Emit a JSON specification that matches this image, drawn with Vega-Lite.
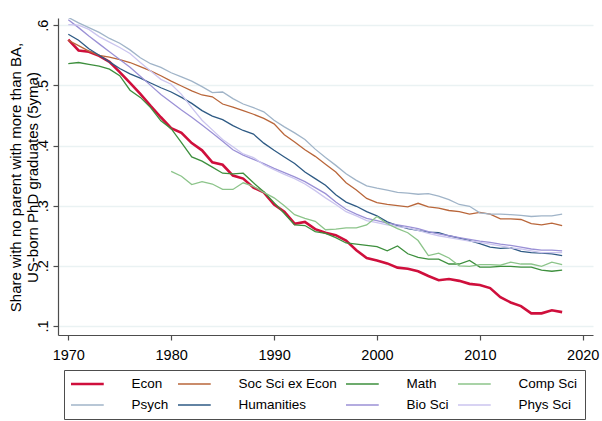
{
  "$schema": "https://vega.github.io/schema/vega-lite/v6.json",
  "width": 535,
  "height": 317,
  "autosize": {"type": "none"},
  "padding": {"left": 58, "top": 18, "right": 9, "bottom": 86},
  "background": "white",
  "config": {
    "view": {"stroke": null},
    "font": "Liberation Sans",
    "axis": {
      "labelFont": "Liberation Sans",
      "titleFont": "Liberation Sans",
      "labelColor": "black",
      "titleColor": "black",
      "domainColor": "#4d4d4d",
      "tickColor": "#4d4d4d",
      "domainWidth": 1.2,
      "tickWidth": 1.2,
      "tickSize": 5
    }
  },
  "data": {
    "values": [
      {"year": 1970, "Econ": 0.576, "Soc Sci ex Econ": 0.575, "Math": 0.536, "Comp Sci": null, "Psych": 0.613, "Humanities": 0.585, "Bio Sci": 0.609, "Phys Sci": 0.601},
      {"year": 1971, "Econ": 0.558, "Soc Sci ex Econ": 0.566, "Math": 0.538, "Comp Sci": null, "Psych": 0.604, "Humanities": 0.575, "Bio Sci": 0.596, "Phys Sci": 0.600},
      {"year": 1972, "Econ": 0.556, "Soc Sci ex Econ": 0.557, "Math": 0.535, "Comp Sci": null, "Psych": 0.596, "Humanities": 0.561, "Bio Sci": 0.582, "Phys Sci": 0.593},
      {"year": 1973, "Econ": 0.549, "Soc Sci ex Econ": 0.550, "Math": 0.532, "Comp Sci": null, "Psych": 0.588, "Humanities": 0.550, "Bio Sci": 0.569, "Phys Sci": 0.581},
      {"year": 1974, "Econ": 0.539, "Soc Sci ex Econ": 0.547, "Math": 0.527, "Comp Sci": null, "Psych": 0.578, "Humanities": 0.539, "Bio Sci": 0.556, "Phys Sci": 0.572},
      {"year": 1975, "Econ": 0.522, "Soc Sci ex Econ": 0.543, "Math": 0.516, "Comp Sci": null, "Psych": 0.570, "Humanities": 0.528, "Bio Sci": 0.543, "Phys Sci": 0.563},
      {"year": 1976, "Econ": 0.504, "Soc Sci ex Econ": 0.538, "Math": 0.492, "Comp Sci": null, "Psych": 0.559, "Humanities": 0.519, "Bio Sci": 0.530, "Phys Sci": 0.553},
      {"year": 1977, "Econ": 0.486, "Soc Sci ex Econ": 0.531, "Math": 0.480, "Comp Sci": null, "Psych": 0.546, "Humanities": 0.512, "Bio Sci": 0.515, "Phys Sci": 0.538},
      {"year": 1978, "Econ": 0.466, "Soc Sci ex Econ": 0.524, "Math": 0.463, "Comp Sci": null, "Psych": 0.536, "Humanities": 0.504, "Bio Sci": 0.500, "Phys Sci": 0.524},
      {"year": 1979, "Econ": 0.447, "Soc Sci ex Econ": 0.516, "Math": 0.441, "Comp Sci": null, "Psych": 0.530, "Humanities": 0.496, "Bio Sci": 0.485, "Phys Sci": 0.510},
      {"year": 1980, "Econ": 0.429, "Soc Sci ex Econ": 0.507, "Math": 0.428, "Comp Sci": 0.357, "Psych": 0.521, "Humanities": 0.489, "Bio Sci": 0.472, "Phys Sci": 0.502},
      {"year": 1981, "Econ": 0.421, "Soc Sci ex Econ": 0.499, "Math": 0.405, "Comp Sci": 0.349, "Psych": 0.514, "Humanities": 0.480, "Bio Sci": 0.459, "Phys Sci": 0.485},
      {"year": 1982, "Econ": 0.404, "Soc Sci ex Econ": 0.491, "Math": 0.381, "Comp Sci": 0.335, "Psych": 0.507, "Humanities": 0.470, "Bio Sci": 0.447, "Phys Sci": 0.463},
      {"year": 1983, "Econ": 0.392, "Soc Sci ex Econ": 0.484, "Math": 0.374, "Comp Sci": 0.340, "Psych": 0.498, "Humanities": 0.458, "Bio Sci": 0.434, "Phys Sci": 0.442},
      {"year": 1984, "Econ": 0.372, "Soc Sci ex Econ": 0.481, "Math": 0.364, "Comp Sci": 0.336, "Psych": 0.488, "Humanities": 0.449, "Bio Sci": 0.421, "Phys Sci": 0.426},
      {"year": 1985, "Econ": 0.368, "Soc Sci ex Econ": 0.469, "Math": 0.354, "Comp Sci": 0.327, "Psych": 0.489, "Humanities": 0.443, "Bio Sci": 0.407, "Phys Sci": 0.410},
      {"year": 1986, "Econ": 0.350, "Soc Sci ex Econ": 0.464, "Math": 0.353, "Comp Sci": 0.327, "Psych": 0.478, "Humanities": 0.433, "Bio Sci": 0.393, "Phys Sci": 0.398},
      {"year": 1987, "Econ": 0.345, "Soc Sci ex Econ": 0.458, "Math": 0.354, "Comp Sci": 0.338, "Psych": 0.469, "Humanities": 0.425, "Bio Sci": 0.384, "Phys Sci": 0.386},
      {"year": 1988, "Econ": 0.330, "Soc Sci ex Econ": 0.452, "Math": 0.338, "Comp Sci": 0.332, "Psych": 0.463, "Humanities": 0.419, "Bio Sci": 0.377, "Phys Sci": 0.380},
      {"year": 1989, "Econ": 0.322, "Soc Sci ex Econ": 0.445, "Math": 0.323, "Comp Sci": 0.322, "Psych": 0.456, "Humanities": 0.404, "Bio Sci": 0.370, "Phys Sci": 0.368},
      {"year": 1990, "Econ": 0.302, "Soc Sci ex Econ": 0.436, "Math": 0.305, "Comp Sci": 0.313, "Psych": 0.442, "Humanities": 0.392, "Bio Sci": 0.362, "Phys Sci": 0.360},
      {"year": 1991, "Econ": 0.290, "Soc Sci ex Econ": 0.418, "Math": 0.287, "Comp Sci": 0.300, "Psych": 0.431, "Humanities": 0.381, "Bio Sci": 0.355, "Phys Sci": 0.352},
      {"year": 1992, "Econ": 0.270, "Soc Sci ex Econ": 0.406, "Math": 0.268, "Comp Sci": 0.285, "Psych": 0.421, "Humanities": 0.370, "Bio Sci": 0.348, "Phys Sci": 0.345},
      {"year": 1993, "Econ": 0.273, "Soc Sci ex Econ": 0.393, "Math": 0.267, "Comp Sci": 0.279, "Psych": 0.410, "Humanities": 0.356, "Bio Sci": 0.340, "Phys Sci": 0.336},
      {"year": 1994, "Econ": 0.261, "Soc Sci ex Econ": 0.382, "Math": 0.257, "Comp Sci": 0.274, "Psych": 0.394, "Humanities": 0.345, "Bio Sci": 0.330, "Phys Sci": 0.325},
      {"year": 1995, "Econ": 0.255, "Soc Sci ex Econ": 0.369, "Math": 0.254, "Comp Sci": 0.260, "Psych": 0.380, "Humanities": 0.334, "Bio Sci": 0.320, "Phys Sci": 0.313},
      {"year": 1996, "Econ": 0.251, "Soc Sci ex Econ": 0.356, "Math": 0.247, "Comp Sci": 0.261, "Psych": 0.367, "Humanities": 0.318, "Bio Sci": 0.306, "Phys Sci": 0.302},
      {"year": 1997, "Econ": 0.242, "Soc Sci ex Econ": 0.338, "Math": 0.238, "Comp Sci": 0.263, "Psych": 0.353, "Humanities": 0.306, "Bio Sci": 0.294, "Phys Sci": 0.290},
      {"year": 1998, "Econ": 0.226, "Soc Sci ex Econ": 0.326, "Math": 0.236, "Comp Sci": 0.263, "Psych": 0.342, "Humanities": 0.299, "Bio Sci": 0.286, "Phys Sci": 0.283},
      {"year": 1999, "Econ": 0.213, "Soc Sci ex Econ": 0.312, "Math": 0.234, "Comp Sci": 0.268, "Psych": 0.333, "Humanities": 0.290, "Bio Sci": 0.279, "Phys Sci": 0.275},
      {"year": 2000, "Econ": 0.209, "Soc Sci ex Econ": 0.305, "Math": 0.232, "Comp Sci": 0.282, "Psych": 0.329, "Humanities": 0.283, "Bio Sci": 0.275, "Phys Sci": 0.272},
      {"year": 2001, "Econ": 0.204, "Soc Sci ex Econ": 0.302, "Math": 0.225, "Comp Sci": 0.270, "Psych": 0.326, "Humanities": 0.273, "Bio Sci": 0.271, "Phys Sci": 0.268},
      {"year": 2002, "Econ": 0.197, "Soc Sci ex Econ": 0.300, "Math": 0.233, "Comp Sci": 0.262, "Psych": 0.322, "Humanities": 0.267, "Bio Sci": 0.268, "Phys Sci": 0.265},
      {"year": 2003, "Econ": 0.195, "Soc Sci ex Econ": 0.298, "Math": 0.220, "Comp Sci": 0.255, "Psych": 0.321, "Humanities": 0.262, "Bio Sci": 0.265, "Phys Sci": 0.263},
      {"year": 2004, "Econ": 0.191, "Soc Sci ex Econ": 0.304, "Math": 0.214, "Comp Sci": 0.242, "Psych": 0.319, "Humanities": 0.259, "Bio Sci": 0.262, "Phys Sci": 0.259},
      {"year": 2005, "Econ": 0.183, "Soc Sci ex Econ": 0.298, "Math": 0.211, "Comp Sci": 0.217, "Psych": 0.320, "Humanities": 0.256, "Bio Sci": 0.257, "Phys Sci": 0.254},
      {"year": 2006, "Econ": 0.176, "Soc Sci ex Econ": 0.296, "Math": 0.211, "Comp Sci": 0.221, "Psych": 0.316, "Humanities": 0.255, "Bio Sci": 0.253, "Phys Sci": 0.250},
      {"year": 2007, "Econ": 0.178, "Soc Sci ex Econ": 0.292, "Math": 0.203, "Comp Sci": 0.213, "Psych": 0.310, "Humanities": 0.250, "Bio Sci": 0.250, "Phys Sci": 0.247},
      {"year": 2008, "Econ": 0.175, "Soc Sci ex Econ": 0.290, "Math": 0.203, "Comp Sci": 0.200, "Psych": 0.302, "Humanities": 0.246, "Bio Sci": 0.247, "Phys Sci": 0.244},
      {"year": 2009, "Econ": 0.170, "Soc Sci ex Econ": 0.286, "Math": 0.209, "Comp Sci": 0.199, "Psych": 0.299, "Humanities": 0.242, "Bio Sci": 0.244, "Phys Sci": 0.241},
      {"year": 2010, "Econ": 0.168, "Soc Sci ex Econ": 0.289, "Math": 0.198, "Comp Sci": 0.202, "Psych": 0.288, "Humanities": 0.237, "Bio Sci": 0.241, "Phys Sci": 0.239},
      {"year": 2011, "Econ": 0.163, "Soc Sci ex Econ": 0.286, "Math": 0.198, "Comp Sci": 0.202, "Psych": 0.286, "Humanities": 0.231, "Bio Sci": 0.239, "Phys Sci": 0.236},
      {"year": 2012, "Econ": 0.148, "Soc Sci ex Econ": 0.278, "Math": 0.199, "Comp Sci": 0.201, "Psych": 0.286, "Humanities": 0.229, "Bio Sci": 0.236, "Phys Sci": 0.233},
      {"year": 2013, "Econ": 0.139, "Soc Sci ex Econ": 0.278, "Math": 0.199, "Comp Sci": 0.206, "Psych": 0.285, "Humanities": 0.230, "Bio Sci": 0.234, "Phys Sci": 0.230},
      {"year": 2014, "Econ": 0.133, "Soc Sci ex Econ": 0.277, "Math": 0.198, "Comp Sci": 0.203, "Psych": 0.284, "Humanities": 0.224, "Bio Sci": 0.231, "Phys Sci": 0.228},
      {"year": 2015, "Econ": 0.121, "Soc Sci ex Econ": 0.270, "Math": 0.198, "Comp Sci": 0.203, "Psych": 0.282, "Humanities": 0.222, "Bio Sci": 0.228, "Phys Sci": 0.225},
      {"year": 2016, "Econ": 0.121, "Soc Sci ex Econ": 0.268, "Math": 0.193, "Comp Sci": 0.199, "Psych": 0.283, "Humanities": 0.221, "Bio Sci": 0.226, "Phys Sci": 0.222},
      {"year": 2017, "Econ": 0.126, "Soc Sci ex Econ": 0.271, "Math": 0.191, "Comp Sci": 0.206, "Psych": 0.283, "Humanities": 0.220, "Bio Sci": 0.226, "Phys Sci": 0.222},
      {"year": 2018, "Econ": 0.123, "Soc Sci ex Econ": 0.267, "Math": 0.193, "Comp Sci": 0.202, "Psych": 0.286, "Humanities": 0.217, "Bio Sci": 0.225, "Phys Sci": 0.222}
    ]
  },
  "transform": [
    {"fold": ["Econ", "Soc Sci ex Econ", "Math", "Comp Sci", "Psych", "Humanities", "Bio Sci", "Phys Sci"], "as": ["series", "share"]},
    {"filter": "datum.share != null"}
  ],
  "mark": {"type": "line", "clip": true},
  "encoding": {
    "x": {
      "field": "year",
      "type": "quantitative",
      "scale": {"domain": [1969, 2021], "nice": false, "zero": false},
      "axis": {
        "title": null,
        "values": [1970, 1980, 1990, 2000, 2010, 2020],
        "format": "d",
        "grid": false,
        "labelFontSize": 14.5,
        "labelPadding": 8,
        "labelFlush": false
      }
    },
    "y": {
      "field": "share",
      "type": "quantitative",
      "scale": {"domain": [0.085, 0.612], "nice": false, "zero": false},
      "axis": {
        "title": ["Share with no parent with more than BA,", "US-born PhD graduates (5yma)"],
        "titleFontSize": 15,
        "titleFontWeight": "normal",
        "titleLineHeight": 17,
        "titleAngle": -90,
        "titleAlign": "center",
        "titleBaseline": "alphabetic",
        "titleX": -38,
        "titleY": 159,
        "values": [0.1, 0.2, 0.3, 0.4, 0.5, 0.6],
        "labelExpr": "substring(format(datum.value, '.1f'), 1)",
        "labelAngle": -90,
        "labelAlign": "center",
        "labelBaseline": "alphabetic",
        "labelPadding": 6,
        "labelFontSize": 14.5,
        "labelFlush": false,
        "grid": true,
        "gridColor": "#eaf2f3",
        "gridWidth": 1.6
      }
    },
    "color": {
      "field": "series",
      "type": "nominal",
      "scale": {
        "domain": ["Econ", "Soc Sci ex Econ", "Math", "Comp Sci", "Psych", "Humanities", "Bio Sci", "Phys Sci"],
        "range": ["#cf0f3c", "#b9663a", "#3d8f3d", "#8cc48a", "#a0b4c8", "#2e5a84", "#9b91d6", "#cbc5ef"]
      },
      "legend": {
        "title": null,
        "orient": "none",
        "legendX": 6,
        "legendY": 352,
        "direction": "horizontal",
        "columns": 4,
        "symbolType": "stroke",
        "symbolSize": 2704,
        "symbolStrokeWidth": 1.3,
        "clipHeight": 14,
        "labelFont": "Liberation Sans",
        "labelFontSize": 13.5,
        "labelColor": "black",
        "labelOffset": 47,
        "columnPadding": 9,
        "rowPadding": 7,
        "padding": 7,
        "strokeColor": "#4d4d4d",
        "fillColor": "white",
        "encode": {
          "symbols": {"update": {"strokeWidth": {"signal": "datum.value === 'Econ' ? 2.6 : 1.3"}}}
        }
      }
    },
    "strokeWidth": {
      "condition": {"test": "datum.series === 'Econ'", "value": 2.6},
      "value": 1.3
    }
  }
}
